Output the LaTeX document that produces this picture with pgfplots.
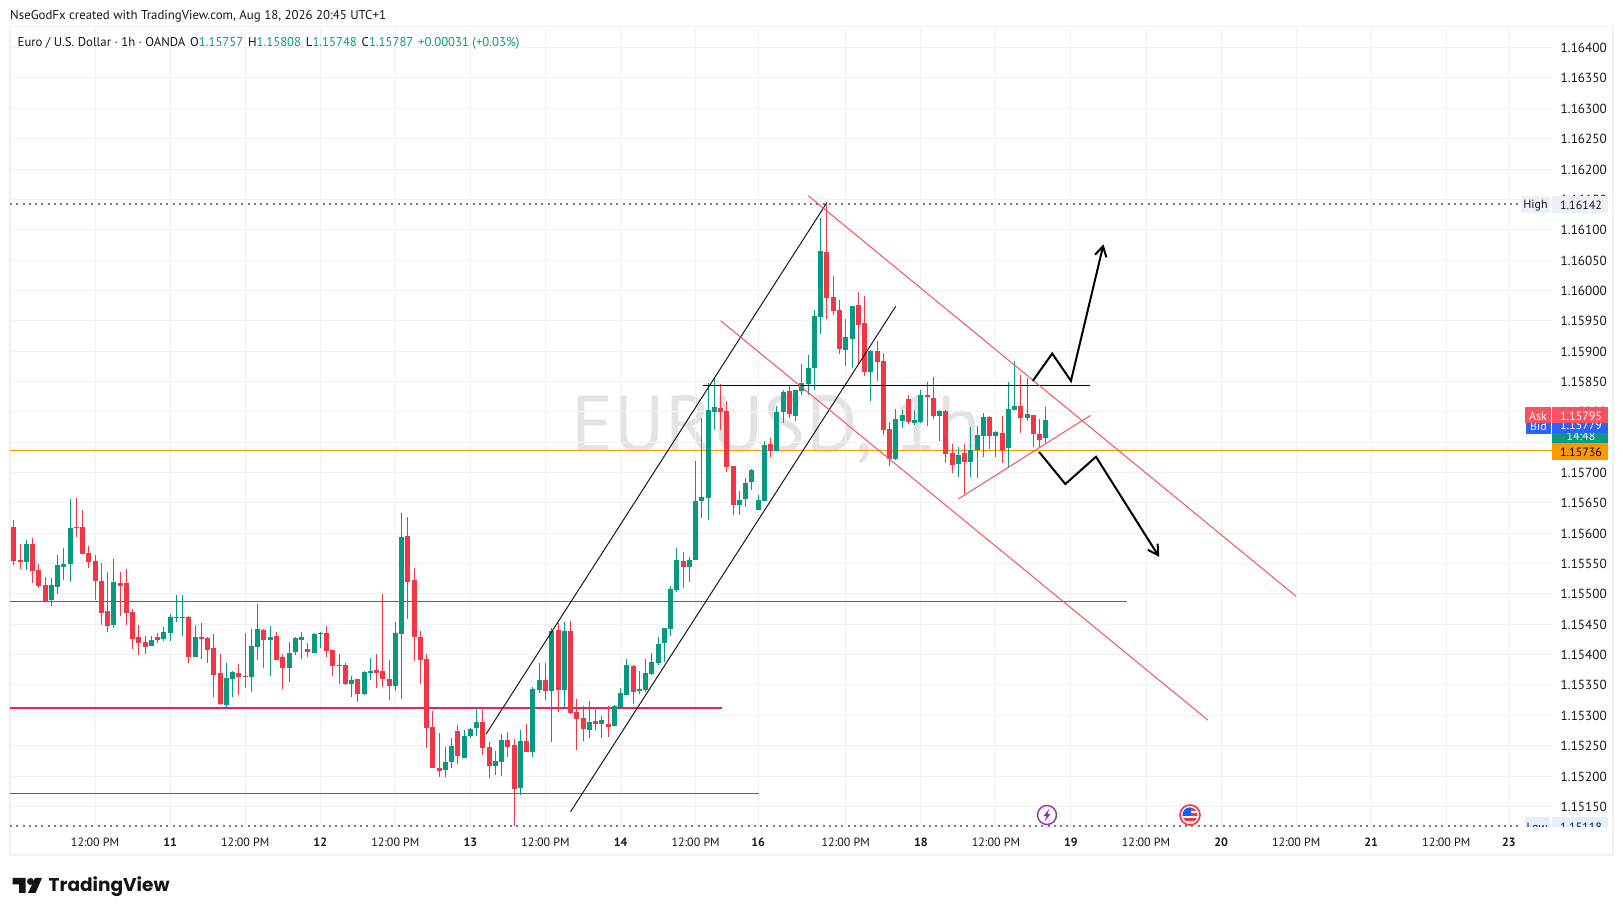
\documentclass[border=0pt]{standalone}
\usepackage{fontspec}
\setmainfont{PT Sans}
\newfontfamily\logofont{Poppins}
\usepackage{pgfplots}
\usepackage{pgfplotstable}
\pgfplotsset{compat=1.18}
\usetikzlibrary{arrows.meta}
\definecolor{tvgreen}{HTML}{089981}
\definecolor{tvred}{HTML}{F23645}
\definecolor{drawred}{HTML}{F7525F}
\definecolor{pinkline}{HTML}{E91E63}
\definecolor{orangeline}{HTML}{FF9800}
\definecolor{txt}{HTML}{131722}
\definecolor{gridc}{HTML}{F0F1F4}
\definecolor{wm}{HTML}{E3E3E3}
\definecolor{panel}{HTML}{F0F1F3}
\definecolor{dots}{HTML}{787B86}
\definecolor{lowbg}{HTML}{E3EFFD}
\definecolor{highbg}{HTML}{EDF0F7}
\definecolor{bidblue}{HTML}{2962FF}
\definecolor{evpurple}{HTML}{9C27B0}
\pgfplotstableread{
i h t b l
2 1.15589 1.15582 1.15553 1.15540
6 1.15526 1.15515 1.15490 1.15480
7 1.15564 1.15548 1.15511 1.15500
8 1.15576 1.15549 1.15544 1.15523
9 1.15657 1.15609 1.15549 1.15520
16 1.15558 1.15520 1.15449 1.15444
22 1.15431 1.15424 1.15414 1.15414
24 1.15445 1.15437 1.15426 1.15422
25 1.15467 1.15462 1.15436 1.15422
26 1.15498 1.15462 1.15460 1.15454
27 1.15498 1.15462 1.15460 1.15431
29 1.15449 1.15429 1.15396 1.15396
34 1.15386 1.15361 1.15317 1.15313
35 1.15373 1.15371 1.15360 1.15330
38 1.15442 1.15414 1.15363 1.15338
39 1.15483 1.15442 1.15412 1.15391
41 1.15447 1.15429 1.15424 1.15365
44 1.15421 1.15403 1.15378 1.15355
45 1.15429 1.15427 1.15404 1.15399
46 1.15437 1.15429 1.15424 1.15393
48 1.15436 1.15434 1.15403 1.15403
49 1.15437 1.15436 1.15434 1.15411
52 1.15401 1.15383 1.15381 1.15351
54 1.15365 1.15358 1.15351 1.15330
56 1.15373 1.15371 1.15335 1.15333
57 1.15394 1.15373 1.15370 1.15358
61 1.15454 1.15436 1.15348 1.15340
62 1.15634 1.15594 1.15434 1.15327
69 1.15247 1.15223 1.15210 1.15198
70 1.15262 1.15249 1.15223 1.15213
72 1.15276 1.15266 1.15229 1.15229
73 1.15279 1.15277 1.15266 1.15262
74 1.15313 1.15289 1.15279 1.15266
77 1.15242 1.15224 1.15216 1.15201
78 1.15269 1.15259 1.15223 1.15200
81 1.15275 1.15257 1.15180 1.15168
83 1.15346 1.15343 1.15239 1.15231
84 1.15386 1.15358 1.15341 1.15337
86 1.15444 1.15439 1.15340 1.15256
88 1.15454 1.15439 1.15342 1.15312
92 1.15323 1.15289 1.15276 1.15262
94 1.15299 1.15292 1.15285 1.15262
96 1.15317 1.15315 1.15282 1.15282
97 1.15345 1.15337 1.15313 1.15313
98 1.15393 1.15383 1.15333 1.15333
100 1.15373 1.15343 1.15340 1.15335
101 1.15393 1.15370 1.15342 1.15338
102 1.15403 1.15388 1.15368 1.15366
103 1.15429 1.15417 1.15386 1.15383
104 1.15444 1.15444 1.15419 1.15388
105 1.15513 1.15508 1.15442 1.15431
106 1.15576 1.15556 1.15507 1.15503
108 1.15561 1.15556 1.15544 1.15520
109 1.15719 1.15653 1.15556 1.15556
110 1.15790 1.15660 1.15653 1.15625
111 1.15848 1.15803 1.15658 1.15622
112 1.15856 1.15808 1.15800 1.15770
116 1.15670 1.15655 1.15647 1.15630
117 1.15691 1.15683 1.15657 1.15643
118 1.15706 1.15704 1.15685 1.15671
119 1.15663 1.15655 1.15638 1.15638
120 1.15752 1.15745 1.15653 1.15653
122 1.15810 1.15800 1.15736 1.15736
123 1.15836 1.15833 1.15800 1.15782
125 1.15836 1.15836 1.15793 1.15785
126 1.15879 1.15848 1.15834 1.15828
127 1.15894 1.15872 1.15846 1.15828
128 1.15968 1.15958 1.15872 1.15836
129 1.16119 1.16065 1.15956 1.15928
133 1.15953 1.15923 1.15902 1.15876
134 1.15974 1.15974 1.15920 1.15872
137 1.15902 1.15900 1.15866 1.15818
141 1.15805 1.15788 1.15722 1.15721
142 1.15803 1.15795 1.15785 1.15773
144 1.15803 1.15787 1.15782 1.15778
145 1.15836 1.15828 1.15783 1.15782
148 1.15803 1.15801 1.15793 1.15752
151 1.15742 1.15729 1.15714 1.15693
153 1.15775 1.15737 1.15717 1.15693
154 1.15777 1.15762 1.15737 1.15691
155 1.15798 1.15792 1.15760 1.15726
157 1.15768 1.15767 1.15760 1.15726
159 1.15849 1.15805 1.15740 1.15708
160 1.15884 1.15810 1.15803 1.15803
162 1.15856 1.15797 1.15790 1.15785
165 1.15808 1.15787 1.15757 1.15748
}\upcandles
\pgfplotstableread{
i h t b l
0 1.15622 1.15610 1.15554 1.15548
1 1.15582 1.15556 1.15553 1.15541
3 1.15592 1.15582 1.15538 1.15518
4 1.15549 1.15540 1.15513 1.15510
5 1.15528 1.15515 1.15488 1.15488
10 1.15658 1.15610 1.15609 1.15594
11 1.15638 1.15610 1.15566 1.15566
12 1.15579 1.15568 1.15553 1.15543
13 1.15564 1.15554 1.15521 1.15490
14 1.15551 1.15521 1.15469 1.15449
15 1.15536 1.15472 1.15447 1.15437
17 1.15536 1.15518 1.15513 1.15464
18 1.15541 1.15518 1.15469 1.15449
19 1.15475 1.15470 1.15426 1.15409
20 1.15449 1.15429 1.15419 1.15399
21 1.15431 1.15421 1.15412 1.15401
23 1.15436 1.15429 1.15424 1.15419
28 1.15464 1.15462 1.15396 1.15386
30 1.15452 1.15429 1.15426 1.15393
31 1.15429 1.15427 1.15408 1.15386
32 1.15434 1.15411 1.15366 1.15330
33 1.15401 1.15370 1.15318 1.15317
36 1.15384 1.15370 1.15363 1.15333
37 1.15436 1.15365 1.15363 1.15345
40 1.15442 1.15440 1.15424 1.15378
42 1.15437 1.15431 1.15391 1.15391
43 1.15401 1.15396 1.15378 1.15343
47 1.15419 1.15409 1.15404 1.15396
50 1.15447 1.15436 1.15406 1.15396
51 1.15408 1.15408 1.15381 1.15365
53 1.15386 1.15383 1.15351 1.15350
55 1.15360 1.15360 1.15335 1.15322
58 1.15401 1.15374 1.15370 1.15345
59 1.15500 1.15373 1.15360 1.15346
60 1.15391 1.15360 1.15348 1.15325
63 1.15627 1.15596 1.15520 1.15459
64 1.15543 1.15523 1.15429 1.15390
65 1.15439 1.15429 1.15391 1.15351
66 1.15401 1.15393 1.15279 1.15246
67 1.15307 1.15280 1.15213 1.15213
68 1.15271 1.15214 1.15208 1.15198
71 1.15284 1.15274 1.15233 1.15219
75 1.15308 1.15289 1.15246 1.15234
76 1.15256 1.15247 1.15216 1.15196
79 1.15272 1.15259 1.15247 1.15231
80 1.15261 1.15251 1.15178 1.15118
82 1.15285 1.15257 1.15239 1.15239
85 1.15386 1.15358 1.15340 1.15325
87 1.15452 1.15441 1.15342 1.15305
89 1.15455 1.15439 1.15304 1.15302
90 1.15327 1.15305 1.15294 1.15243
91 1.15315 1.15295 1.15277 1.15257
93 1.15312 1.15290 1.15285 1.15276
95 1.15315 1.15285 1.15280 1.15264
99 1.15383 1.15381 1.15338 1.15318
107 1.15569 1.15554 1.15544 1.15510
113 1.15846 1.15806 1.15800 1.15770
114 1.15818 1.15802 1.15709 1.15701
115 1.15711 1.15711 1.15647 1.15630
121 1.15757 1.15747 1.15736 1.15726
124 1.15844 1.15834 1.15797 1.15790
130 1.16142 1.16063 1.15988 1.15953
131 1.16024 1.15989 1.15966 1.15960
132 1.15984 1.15968 1.15904 1.15895
135 1.15997 1.15976 1.15943 1.15879
136 1.15991 1.15946 1.15866 1.15859
138 1.15917 1.15900 1.15882 1.15851
139 1.15897 1.15884 1.15770 1.15762
140 1.15783 1.15772 1.15722 1.15711
143 1.15828 1.15821 1.15783 1.15780
146 1.15849 1.15828 1.15825 1.15777
147 1.15857 1.15823 1.15793 1.15788
149 1.15803 1.15801 1.15731 1.15716
150 1.15747 1.15732 1.15712 1.15699
152 1.15747 1.15732 1.15717 1.15665
156 1.15793 1.15792 1.15760 1.15739
158 1.15793 1.15765 1.15737 1.15716
161 1.15861 1.15810 1.15790 1.15765
163 1.15795 1.15795 1.15764 1.15742
164 1.15788 1.15764 1.15754 1.15742
}\downcandles
\begin{document}
\begin{tikzpicture}[x=1pt,y=1pt]
\path[use as bounding box] (0,0) rectangle (1623pt,916pt);
\fill[white] (0,0) rectangle (1623pt,916pt);
\begin{scope}[yshift=916pt,y=-1pt]
\draw[panel,line width=1.5pt] (10,26.5) rectangle (1613,855);
\node[anchor=center,text=wm,inner sep=0pt,font=\fontsize{79.2}{80}\selectfont] at (776,429) {EURUSD, 1h};
\end{scope}
\begin{axis}[
  at={(10pt,89pt)},anchor=south west,
  width=1542pt,height=800pt,scale only axis,
  xmin=-0.6,xmax=245.9,ymin=1.15116,ymax=1.16434,
  axis line style={draw=none},
  major tick length=0pt,
  grid=major,
  major grid style={draw=gridc,line width=1pt},
  ytick={1.1515,1.152,1.1525,1.153,1.1535,1.154,1.1545,1.155,1.1555,1.156,1.1565,1.157,1.1575,1.158,1.1585,1.159,1.1595,1.16,1.1605,1.161,1.1615,1.162,1.1625,1.163,1.1635,1.164},
  yticklabels={1.15150,1.15200,1.15250,1.15300,1.15350,1.15400,1.15450,1.15500,1.15550,1.15600,1.15650,1.15700,1.15750,1.15800,1.15850,1.15900,1.15950,1.16000,1.16050,1.16100,1.16150,1.16200,1.16250,1.16300,1.16350,1.16400},
  yticklabel pos=right,
  scaled y ticks=false,
  yticklabel style={anchor=west,text=txt,font=\fontsize{13.2}{15}\selectfont,xshift=8.5pt,yshift=-0.4pt,inner xsep=0pt},
  xtick={13,25,37,49,61,73,85,97,109,119,133,145,157,169,181,193,205,217,229,239},
  xticklabels={12:00 PM,\textbf{11},12:00 PM,\textbf{12},12:00 PM,\textbf{13},12:00 PM,\textbf{14},12:00 PM,\textbf{16},12:00 PM,\textbf{18},12:00 PM,\textbf{19},12:00 PM,\textbf{20},12:00 PM,\textbf{21},12:00 PM,\textbf{23}},
  xticklabel style={text=txt,font=\fontsize{12}{15}\selectfont,anchor=center,yshift=-15.3pt},
  xticklabel shift=0pt,
]
% horizontal levels
\addplot[orangeline,line width=1pt,forget plot] coordinates {(-0.6,1.15736) (245.9,1.15736)};
\addplot[pinkline,line width=1pt,forget plot] coordinates {(-0.6,1.15488) (178,1.15488)};
\addplot[pinkline,line width=2pt,forget plot] coordinates {(-0.6,1.15312) (113.2,1.15312)};
\addplot[pinkline,line width=1pt,forget plot] coordinates {(-0.6,1.15172) (119.1,1.15172)};
\addplot[dots,line width=1.5pt,dash pattern=on 2pt off 4.25pt,forget plot] coordinates {(-0.6,1.16142) (241,1.16142)};
\addplot[dots,line width=1.5pt,dash pattern=on 2pt off 4.25pt,forget plot] coordinates {(-0.6,1.15118) (241,1.15118)};
% candles: wicks
\addplot[draw=none,mark=none,forget plot,error bars/y dir=plus,error bars/y explicit,error bars/error mark=none,
  error bars/error bar style={draw=tvgreen,line width=1pt}]
  table[x=i,y=l,y error expr=\thisrow{h}-\thisrow{l}] {\upcandles};
\addplot[draw=none,mark=none,forget plot,error bars/y dir=plus,error bars/y explicit,error bars/error mark=none,
  error bars/error bar style={draw=tvred,line width=1pt}]
  table[x=i,y=l,y error expr=\thisrow{h}-\thisrow{l}] {\downcandles};
% candles: bodies
\addplot[draw=none,mark=none,forget plot,error bars/y dir=plus,error bars/y explicit,error bars/error mark=none,
  error bars/error bar style={draw=tvgreen,line width=5pt}]
  table[x=i,y=b,y error expr=\thisrow{t}-\thisrow{b}] {\upcandles};
\addplot[draw=none,mark=none,forget plot,error bars/y dir=plus,error bars/y explicit,error bars/error mark=none,
  error bars/error bar style={draw=tvred,line width=5pt}]
  table[x=i,y=b,y error expr=\thisrow{t}-\thisrow{b}] {\downcandles};
% channel lines
\addplot[black!90,line width=1pt,forget plot] coordinates {(75.5,1.15269) (130,1.16145)};
\addplot[black!90,line width=1pt,forget plot] coordinates {(89,1.15141) (141,1.15974)};
\addplot[black,line width=1pt,forget plot] coordinates {(110.1,1.15844) (172.1,1.15844)};
\addplot[drawred,line width=1pt,forget plot] coordinates {(127,1.16156) (205,1.15496)};
\addplot[drawred,line width=1pt,forget plot] coordinates {(113,1.15950) (190.9,1.15292)};
\addplot[drawred,line width=1pt,forget plot] coordinates {(151,1.156565) (172.1,1.15794)};
% scenario arrows
\addplot[black,line width=2pt,line join=miter,-{Straight Barb[length=10pt,width=18pt,angle'=60]},forget plot] coordinates {(162.9,1.15851) (166,1.15896) (169,1.15851) (174.2,1.16076)};
\addplot[black,line width=2pt,line join=miter,-{Straight Barb[length=10pt,width=18pt,angle'=60]},forget plot] coordinates {(163.9,1.15734) (168.1,1.15681) (173,1.15726) (183.1,1.15561)};
\end{axis}
\begin{scope}[yshift=916pt,y=-1pt]
% header
\node[anchor=west,inner sep=0pt,text=txt,font=\fontsize{12.85}{15}\selectfont] at (10,16.5) {NseGodFx created with TradingView.com, Aug 18, 2026 20:45 UTC+1};
\node[anchor=west,inner sep=0pt,text=txt,font=\fontsize{12.75}{15}\selectfont] at (17.5,43) {Euro / U.S. Dollar · 1h · OANDA\hspace{4.8pt}O\textcolor{tvgreen}{1.15757}\hspace{4.8pt}H\textcolor{tvgreen}{1.15808}\hspace{4.8pt}L\textcolor{tvgreen}{1.15748}\hspace{4.8pt}C\textcolor{tvgreen}{1.15787}\hspace{4.8pt}\textcolor{tvgreen}{+0.00031 (+0.03\%)}};
% high label
\fill[highbg] (1521,196.5) rectangle (1549.5,213);
\fill[highbg] (1552,196.5) rectangle (1607.5,213);
\node[text=txt,inner sep=0pt,font=\fontsize{12}{15}\selectfont] at (1535.5,205.5) {High};
\node[text=txt,inner sep=0pt,font=\fontsize{12}{15}\selectfont] at (1581,205.5) {1.16142};
% low label
\begin{scope}
\clip (1515,800) rectangle (1610,827);
\fill[lowbg] (1525,817.5) rectangle (1549.5,835);
\fill[lowbg] (1552,817.5) rectangle (1607.5,835);
\node[text=txt,inner sep=0pt,font=\fontsize{12}{15}\selectfont] at (1537,827) {Low};
\node[text=txt,inner sep=0pt,font=\fontsize{12}{15}\selectfont] at (1581,827) {1.15118};
\end{scope}
% last price stack
\fill[tvgreen] (1552,416) rectangle (1608,444);
\node[text=white,inner sep=0pt,font=\fontsize{12}{14}\selectfont] at (1581,436.5) {14:48};
\fill[bidblue] (1526,416) rectangle (1551,434);
\node[text=white,inner sep=0pt,font=\fontsize{12}{15}\selectfont] at (1538.5,426) {Bid};
\fill[bidblue] (1552,416) rectangle (1608,433);
\node[text=white,inner sep=0pt,font=\fontsize{12}{15}\selectfont] at (1581,425.5) {1.15779};
\fill[drawred] (1525,407) rectangle (1551,423.5);
\node[text=white,inner sep=0pt,font=\fontsize{12}{15}\selectfont] at (1538,416) {Ask};
\fill[drawred] (1552,407) rectangle (1608,423.5);
\node[text=white,inner sep=0pt,font=\fontsize{12}{15}\selectfont] at (1581,416) {1.15795};
\fill[orangeline] (1552,443) rectangle (1608,460);
\node[text=black,inner sep=0pt,font=\fontsize{12}{15}\selectfont] at (1581,452) {1.15736};
% event icons
\draw[draw=evpurple,fill=white,line width=1.4pt] (1047,815) circle (9.5);
\fill[evpurple] (1049.5,808.5) -- (1043.5,816) -- (1046.5,816) -- (1044.5,821.5) -- (1050.5,814) -- (1047.5,814) -- cycle;
\draw[draw=tvred,fill=white,line width=1.6pt] (1190,815) circle (10);
\begin{scope}
\clip (1190,815) circle (7.5);
\fill[tvred] (1182,807) rectangle (1198,823);
\fill[white] (1182,811) rectangle (1198,813);
\fill[white] (1182,816) rectangle (1198,818.5);
\fill[white] (1182,821) rectangle (1198,824);
\fill[blue!60!cyan] (1182,807) rectangle (1191,816);
\end{scope}
% logo
\fill[black!92] (12.5,878) -- (25.5,878) -- (25.5,893) -- (19,893) -- (19,884.5) -- (12.5,884.5) -- cycle;
\fill[black!92] (30.5,881.5) circle (3.5);
\fill[black!92] (35,878) -- (42,878) -- (35.5,893) -- (28,893) -- cycle;
\node[anchor=west,inner sep=0pt,text=black!92,font=\logofont\bfseries\fontsize{18.5}{24}\selectfont] at (48.5,887) {TradingView};
\end{scope}
\end{tikzpicture}
\end{document}
